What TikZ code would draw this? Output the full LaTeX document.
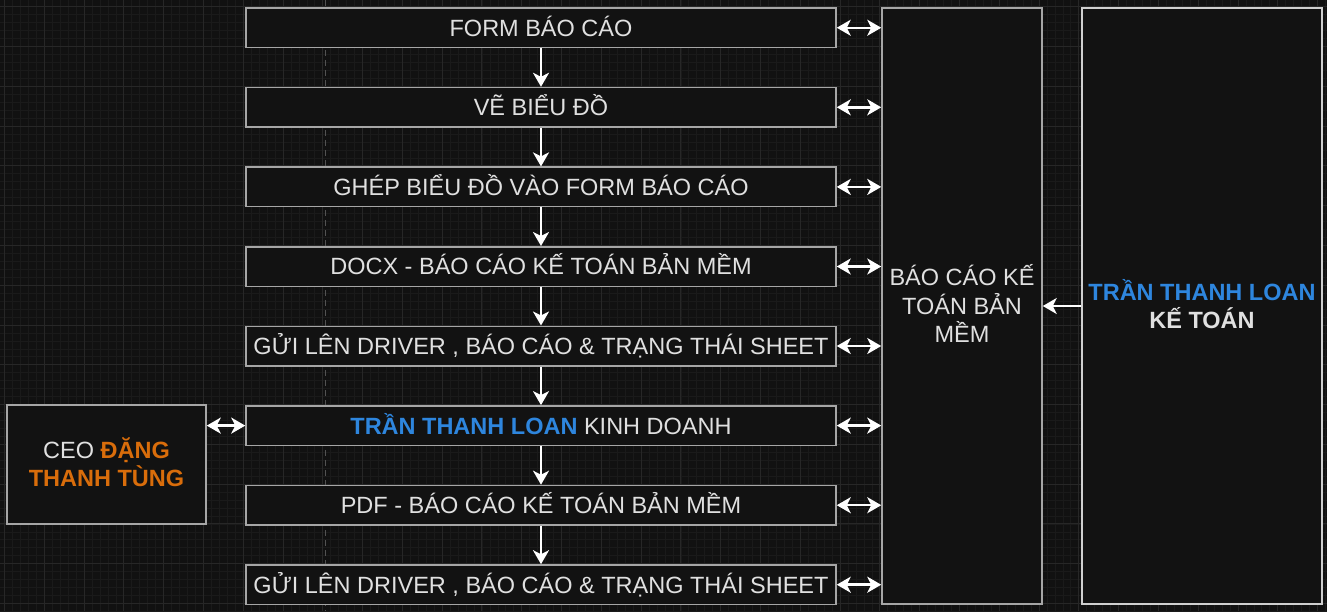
\documentclass[tikz,border=0pt]{standalone}
\usepackage{fontspec}
\setmainfont{Liberation Sans}
\usetikzlibrary{arrows.meta}
\definecolor{bgc}{HTML}{111111}
\definecolor{minorc}{HTML}{1A1A1A}
\definecolor{majorc}{HTML}{272727}
\definecolor{boxfill}{HTML}{121212}
\definecolor{boxline}{HTML}{A6A6A6}
\definecolor{boxlinelight}{HTML}{CFCFCF}
\definecolor{txt}{HTML}{E0E0E0}
\definecolor{bluec}{HTML}{2E86DE}
\definecolor{orangec}{HTML}{D96D0B}
\begin{document}
\begin{tikzpicture}[x=1pt,y=-1pt,
  stepbox/.style={draw=boxline, line width=1.5pt, fill=boxfill, text=txt,
    minimum width=590pt, minimum height=39.5pt, inner sep=0pt,
    text height=16.8pt, text depth=0pt,
    font=\fontsize{23.5}{28.5}\selectfont},
  bigbox/.style={draw=boxline, line width=1.5pt, fill=boxfill, text=txt,
    inner sep=0pt, align=center, font=\fontsize{23.5}{28.5}\selectfont},
  tip/.tip={Stealth[length=14pt,width=16pt,inset=4pt]},
  arr/.style={draw=white, line width=2.5pt, -tip},
  dbl/.style={draw=white, line width=2.5pt, tip-tip},
  minorl/.style={draw=minorc, line width=0.8pt},
  majorl/.style={draw=majorc, line width=1pt}
]
\useasboundingbox (0,0) rectangle (1327,611);
\fill[bgc] (0,0) rectangle (1327,611);
\begin{scope}
\clip (0,0) rectangle (1327,611);
\foreach \i in {0,...,168} { \draw[minorl] ({4.5+(\i-1)*7.958},0) -- ({4.5+(\i-1)*7.958},611); }
\foreach \i in {0,...,78} { \draw[minorl] (0,{6.7+(\i-1)*7.958}) -- (1327,{6.7+(\i-1)*7.958}); }
\foreach \i in {0,...,33} { \draw[majorl] ({4.5+\i*39.79},0) -- ({4.5+\i*39.79},611); }
\foreach \i in {0,...,15} { \draw[majorl] (0,{6.7+\i*39.79}) -- (1327,{6.7+\i*39.79}); }
\draw[draw=majorc!80!white, line width=1pt, dash pattern=on 6pt off 4pt] (325,0) -- (325,611);
\end{scope}

\node[stepbox] (b0) at (541,27.75) {FORM BÁO CÁO};
\node[stepbox] (b1) at (541,107.3) {VẼ BIỂU ĐỒ};
\node[stepbox] (b2) at (541,186.9) {GHÉP BIỂU ĐỒ VÀO FORM BÁO CÁO};
\node[stepbox] (b3) at (541,266.5) {DOCX - BÁO CÁO KẾ TOÁN BẢN MỀM};
\node[stepbox] (b4) at (541,346.0) {GỬI LÊN DRIVER , BÁO CÁO \& TRẠNG THÁI SHEET};
\node[stepbox] (b5) at (541,425.6) {\textcolor{bluec}{\bfseries TRẦN THANH LOAN} KINH DOANH};
\node[stepbox] (b6) at (541,505.2) {PDF - BÁO CÁO KẾ TOÁN BẢN MỀM};
\node[stepbox] (b7) at (541,584.7) {GỬI LÊN DRIVER , BÁO CÁO \& TRẠNG THÁI SHEET};

\node[bigbox, minimum width=160pt, minimum height=596pt] (big) at (962,306) {};
\node[text=txt, align=center, font=\fontsize{23.5}{28.5}\selectfont, inner sep=0pt] (bigtxt) at (962,303.5) {BÁO CÁO KẾ\\TOÁN BẢN\\MỀM};
\node[bigbox, draw=boxlinelight, minimum width=240pt, minimum height=596pt] (kt) at (1202,306) {};
\node[text=txt, align=center, font=\fontsize{23.5}{28.5}\selectfont, inner sep=0pt] (kttxt) at (1202,304)
  {\bfseries\textcolor{bluec}{TRẦN THANH LOAN}\\\bfseries KẾ TOÁN};
\node[bigbox, minimum width=199pt, minimum height=119pt] (ceo) at (106.5,464.5) {};
\node[text=txt, align=center, font=\fontsize{23.5}{28.5}\selectfont, inner sep=0pt] (ceotxt) at (106.5,462)
  {CEO \textcolor{orangec}{\bfseries ĐẶNG}\\\textcolor{orangec}{\bfseries THANH TÙNG}};

\draw[arr] (b0.south) -- (b1.north);
\draw[arr] (b1.south) -- (b2.north);
\draw[arr] (b2.south) -- (b3.north);
\draw[arr] (b3.south) -- (b4.north);
\draw[arr] (b4.south) -- (b5.north);
\draw[arr] (b5.south) -- (b6.north);
\draw[arr] (b6.south) -- (b7.north);

\foreach \n in {b0,b1,b2,b3,b4,b5,b6,b7} { \draw[dbl] (\n.east) -- (big.west |- \n.east); }
\draw[dbl] (ceo.east |- b5.west) -- (b5.west);
\draw[arr] (kt.west) -- (big.east);
\end{tikzpicture}
\end{document}
